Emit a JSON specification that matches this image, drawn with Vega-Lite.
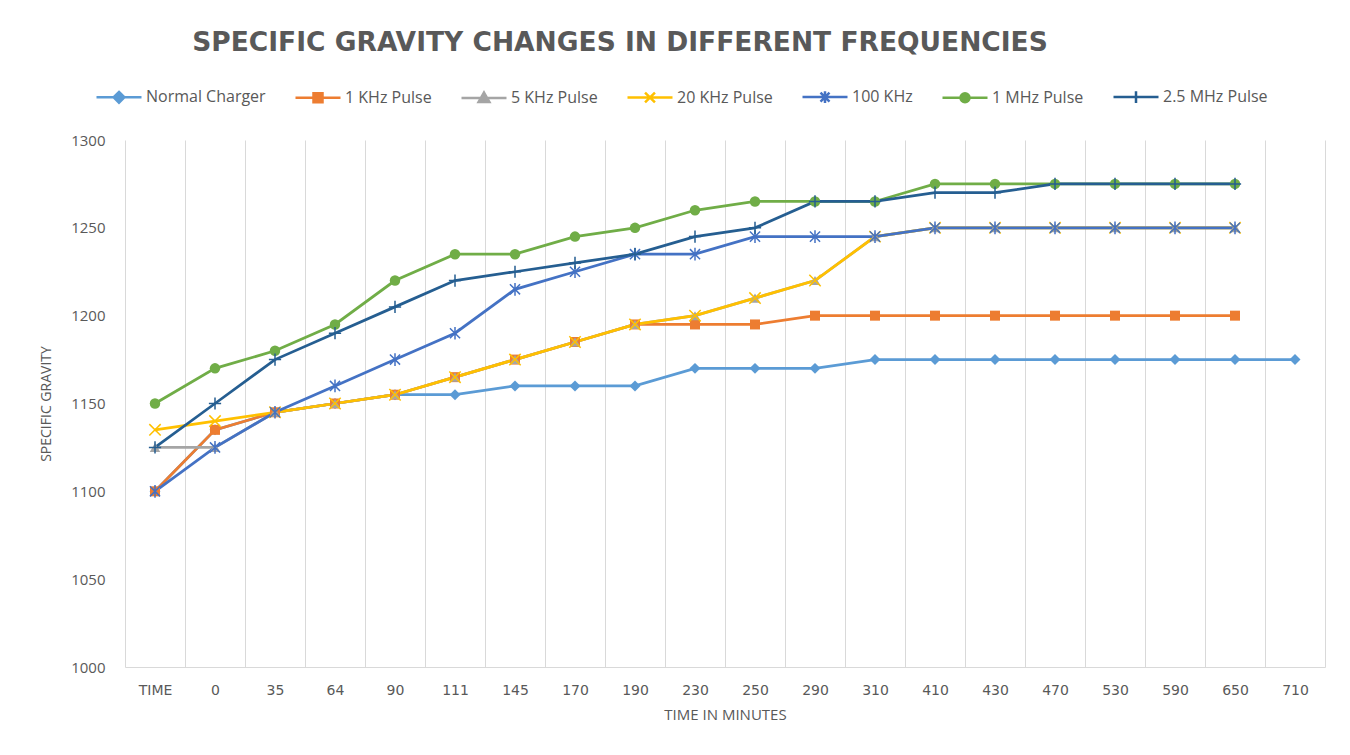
{
  "$schema": "https://vega.github.io/schema/vega-lite/v6.json",
  "width": 1200,
  "height": 527,
  "autosize": {"type": "none"},
  "padding": {"left": 125, "top": 140, "right": 25, "bottom": 88},
  "background": "white",
  "title": {
    "text": "SPECIFIC GRAVITY CHANGES IN DIFFERENT FREQUENCIES",
    "font": "DejaVu Sans",
    "fontSize": 26.5,
    "fontWeight": "bold",
    "color": "#595959",
    "anchor": "middle",
    "frame": "group",
    "dx": -105,
    "offset": 17
  },
  "config": {"view": {"stroke": null}},
  "data": {
    "values": [
      {"t": "TIME", "s": "Normal Charger", "v": 1100},
      {"t": "0", "s": "Normal Charger", "v": 1135},
      {"t": "35", "s": "Normal Charger", "v": 1145},
      {"t": "64", "s": "Normal Charger", "v": 1150},
      {"t": "90", "s": "Normal Charger", "v": 1155},
      {"t": "111", "s": "Normal Charger", "v": 1155},
      {"t": "145", "s": "Normal Charger", "v": 1160},
      {"t": "170", "s": "Normal Charger", "v": 1160},
      {"t": "190", "s": "Normal Charger", "v": 1160},
      {"t": "230", "s": "Normal Charger", "v": 1170},
      {"t": "250", "s": "Normal Charger", "v": 1170},
      {"t": "290", "s": "Normal Charger", "v": 1170},
      {"t": "310", "s": "Normal Charger", "v": 1175},
      {"t": "410", "s": "Normal Charger", "v": 1175},
      {"t": "430", "s": "Normal Charger", "v": 1175},
      {"t": "470", "s": "Normal Charger", "v": 1175},
      {"t": "530", "s": "Normal Charger", "v": 1175},
      {"t": "590", "s": "Normal Charger", "v": 1175},
      {"t": "650", "s": "Normal Charger", "v": 1175},
      {"t": "710", "s": "Normal Charger", "v": 1175},

      {"t": "TIME", "s": "1 KHz Pulse", "v": 1100},
      {"t": "0", "s": "1 KHz Pulse", "v": 1135},
      {"t": "35", "s": "1 KHz Pulse", "v": 1145},
      {"t": "64", "s": "1 KHz Pulse", "v": 1150},
      {"t": "90", "s": "1 KHz Pulse", "v": 1155},
      {"t": "111", "s": "1 KHz Pulse", "v": 1165},
      {"t": "145", "s": "1 KHz Pulse", "v": 1175},
      {"t": "170", "s": "1 KHz Pulse", "v": 1185},
      {"t": "190", "s": "1 KHz Pulse", "v": 1195},
      {"t": "230", "s": "1 KHz Pulse", "v": 1195},
      {"t": "250", "s": "1 KHz Pulse", "v": 1195},
      {"t": "290", "s": "1 KHz Pulse", "v": 1200},
      {"t": "310", "s": "1 KHz Pulse", "v": 1200},
      {"t": "410", "s": "1 KHz Pulse", "v": 1200},
      {"t": "430", "s": "1 KHz Pulse", "v": 1200},
      {"t": "470", "s": "1 KHz Pulse", "v": 1200},
      {"t": "530", "s": "1 KHz Pulse", "v": 1200},
      {"t": "590", "s": "1 KHz Pulse", "v": 1200},
      {"t": "650", "s": "1 KHz Pulse", "v": 1200},

      {"t": "TIME", "s": "5 KHz Pulse", "v": 1125},
      {"t": "0", "s": "5 KHz Pulse", "v": 1125},
      {"t": "35", "s": "5 KHz Pulse", "v": 1145},
      {"t": "64", "s": "5 KHz Pulse", "v": 1150},
      {"t": "90", "s": "5 KHz Pulse", "v": 1155},
      {"t": "111", "s": "5 KHz Pulse", "v": 1165},
      {"t": "145", "s": "5 KHz Pulse", "v": 1175},
      {"t": "170", "s": "5 KHz Pulse", "v": 1185},
      {"t": "190", "s": "5 KHz Pulse", "v": 1195},
      {"t": "230", "s": "5 KHz Pulse", "v": 1200},
      {"t": "250", "s": "5 KHz Pulse", "v": 1210},
      {"t": "290", "s": "5 KHz Pulse", "v": 1220},
      {"t": "310", "s": "5 KHz Pulse", "v": 1245},
      {"t": "410", "s": "5 KHz Pulse", "v": 1250},
      {"t": "430", "s": "5 KHz Pulse", "v": 1250},
      {"t": "470", "s": "5 KHz Pulse", "v": 1250},
      {"t": "530", "s": "5 KHz Pulse", "v": 1250},
      {"t": "590", "s": "5 KHz Pulse", "v": 1250},
      {"t": "650", "s": "5 KHz Pulse", "v": 1250},

      {"t": "TIME", "s": "20 KHz Pulse", "v": 1135},
      {"t": "0", "s": "20 KHz Pulse", "v": 1140},
      {"t": "35", "s": "20 KHz Pulse", "v": 1145},
      {"t": "64", "s": "20 KHz Pulse", "v": 1150},
      {"t": "90", "s": "20 KHz Pulse", "v": 1155},
      {"t": "111", "s": "20 KHz Pulse", "v": 1165},
      {"t": "145", "s": "20 KHz Pulse", "v": 1175},
      {"t": "170", "s": "20 KHz Pulse", "v": 1185},
      {"t": "190", "s": "20 KHz Pulse", "v": 1195},
      {"t": "230", "s": "20 KHz Pulse", "v": 1200},
      {"t": "250", "s": "20 KHz Pulse", "v": 1210},
      {"t": "290", "s": "20 KHz Pulse", "v": 1220},
      {"t": "310", "s": "20 KHz Pulse", "v": 1245},
      {"t": "410", "s": "20 KHz Pulse", "v": 1250},
      {"t": "430", "s": "20 KHz Pulse", "v": 1250},
      {"t": "470", "s": "20 KHz Pulse", "v": 1250},
      {"t": "530", "s": "20 KHz Pulse", "v": 1250},
      {"t": "590", "s": "20 KHz Pulse", "v": 1250},
      {"t": "650", "s": "20 KHz Pulse", "v": 1250},

      {"t": "TIME", "s": "100 KHz", "v": 1100},
      {"t": "0", "s": "100 KHz", "v": 1125},
      {"t": "35", "s": "100 KHz", "v": 1145},
      {"t": "64", "s": "100 KHz", "v": 1160},
      {"t": "90", "s": "100 KHz", "v": 1175},
      {"t": "111", "s": "100 KHz", "v": 1190},
      {"t": "145", "s": "100 KHz", "v": 1215},
      {"t": "170", "s": "100 KHz", "v": 1225},
      {"t": "190", "s": "100 KHz", "v": 1235},
      {"t": "230", "s": "100 KHz", "v": 1235},
      {"t": "250", "s": "100 KHz", "v": 1245},
      {"t": "290", "s": "100 KHz", "v": 1245},
      {"t": "310", "s": "100 KHz", "v": 1245},
      {"t": "410", "s": "100 KHz", "v": 1250},
      {"t": "430", "s": "100 KHz", "v": 1250},
      {"t": "470", "s": "100 KHz", "v": 1250},
      {"t": "530", "s": "100 KHz", "v": 1250},
      {"t": "590", "s": "100 KHz", "v": 1250},
      {"t": "650", "s": "100 KHz", "v": 1250},

      {"t": "TIME", "s": "1 MHz Pulse", "v": 1150},
      {"t": "0", "s": "1 MHz Pulse", "v": 1170},
      {"t": "35", "s": "1 MHz Pulse", "v": 1180},
      {"t": "64", "s": "1 MHz Pulse", "v": 1195},
      {"t": "90", "s": "1 MHz Pulse", "v": 1220},
      {"t": "111", "s": "1 MHz Pulse", "v": 1235},
      {"t": "145", "s": "1 MHz Pulse", "v": 1235},
      {"t": "170", "s": "1 MHz Pulse", "v": 1245},
      {"t": "190", "s": "1 MHz Pulse", "v": 1250},
      {"t": "230", "s": "1 MHz Pulse", "v": 1260},
      {"t": "250", "s": "1 MHz Pulse", "v": 1265},
      {"t": "290", "s": "1 MHz Pulse", "v": 1265},
      {"t": "310", "s": "1 MHz Pulse", "v": 1265},
      {"t": "410", "s": "1 MHz Pulse", "v": 1275},
      {"t": "430", "s": "1 MHz Pulse", "v": 1275},
      {"t": "470", "s": "1 MHz Pulse", "v": 1275},
      {"t": "530", "s": "1 MHz Pulse", "v": 1275},
      {"t": "590", "s": "1 MHz Pulse", "v": 1275},
      {"t": "650", "s": "1 MHz Pulse", "v": 1275},

      {"t": "TIME", "s": "2.5 MHz Pulse", "v": 1125},
      {"t": "0", "s": "2.5 MHz Pulse", "v": 1150},
      {"t": "35", "s": "2.5 MHz Pulse", "v": 1175},
      {"t": "64", "s": "2.5 MHz Pulse", "v": 1190},
      {"t": "90", "s": "2.5 MHz Pulse", "v": 1205},
      {"t": "111", "s": "2.5 MHz Pulse", "v": 1220},
      {"t": "145", "s": "2.5 MHz Pulse", "v": 1225},
      {"t": "170", "s": "2.5 MHz Pulse", "v": 1230},
      {"t": "190", "s": "2.5 MHz Pulse", "v": 1235},
      {"t": "230", "s": "2.5 MHz Pulse", "v": 1245},
      {"t": "250", "s": "2.5 MHz Pulse", "v": 1250},
      {"t": "290", "s": "2.5 MHz Pulse", "v": 1265},
      {"t": "310", "s": "2.5 MHz Pulse", "v": 1265},
      {"t": "410", "s": "2.5 MHz Pulse", "v": 1270},
      {"t": "430", "s": "2.5 MHz Pulse", "v": 1270},
      {"t": "470", "s": "2.5 MHz Pulse", "v": 1275},
      {"t": "530", "s": "2.5 MHz Pulse", "v": 1275},
      {"t": "590", "s": "2.5 MHz Pulse", "v": 1275},
      {"t": "650", "s": "2.5 MHz Pulse", "v": 1275}
    ]
  },
  "encoding": {
    "x": {
      "field": "t",
      "type": "ordinal",
      "sort": ["TIME", "0", "35", "64", "90", "111", "145", "170", "190", "230", "250", "290", "310", "410", "430", "470", "530", "590", "650", "710"],
      "scale": {"type": "band", "paddingInner": 0, "paddingOuter": 0},
      "axis": {
        "title": "TIME IN MINUTES",
        "titleFont": "Open Sans",
        "titleFontSize": 15,
        "titleFontWeight": "normal",
        "titleColor": "#595959",
        "titlePadding": 10,
        "labelAngle": 0,
        "labelFont": "DejaVu Sans",
        "labelFontSize": 14,
        "labelColor": "#595959",
        "labelPadding": 16,
        "tickBand": "extent",
        "ticks": false,
        "grid": true,
        "gridColor": "#D9D9D9",
        "gridWidth": 1,
        "domain": true,
        "domainColor": "#D9D9D9",
        "domainWidth": 1
      }
    },
    "y": {
      "field": "v",
      "type": "quantitative",
      "scale": {"domain": [1000, 1300], "nice": false, "zero": false},
      "axis": {
        "title": "SPECIFIC GRAVITY",
        "titleFont": "Open Sans",
        "titleFontSize": 14,
        "titleFontWeight": "normal",
        "titleColor": "#595959",
        "titlePadding": 17,
        "values": [1000, 1050, 1100, 1150, 1200, 1250, 1300],
        "format": "d",
        "labelFont": "Open Sans",
        "labelFontSize": 15,
        "labelColor": "#595959",
        "labelPadding": 20,
        "ticks": false,
        "domain": false,
        "grid": false
      }
    },
    "color": {
      "field": "s",
      "type": "nominal",
      "scale": {
        "domain": ["Normal Charger", "1 KHz Pulse", "5 KHz Pulse", "20 KHz Pulse", "100 KHz", "1 MHz Pulse", "2.5 MHz Pulse"],
        "range": ["#5B9BD5", "#ED7D31", "#A5A5A5", "#FFC000", "#4472C4", "#70AD47", "#255E91"]
      },
      "legend": {
        "title": null,
        "orient": "none",
        "legendX": -30,
        "legendY": -67,
        "direction": "horizontal",
        "columns": 7,
        "padding": 0,
        "symbolSize": 2025,
        "labelFont": "Open Sans",
        "labelFontSize": 16,
        "labelColor": "#595959",
        "labelOffset": 3,
        "columnPadding": 24,
        "encode": {
          "symbols": {
            "update": {
              "shape": {"signal": "datum.value === 'Normal Charger' ? 'M-1,0H1M0,-0.24L0.24,0L0,0.24L-0.24,0Z' : datum.value === '1 KHz Pulse' ? 'M-1,0H1M-0.2,-0.2H0.2V0.2H-0.2Z' : datum.value === '5 KHz Pulse' ? 'M-1,0H1M0,-0.24L0.24,0.18H-0.24Z' : datum.value === '20 KHz Pulse' ? 'M-1,0H1M-0.22,-0.22L0.22,0.22M-0.22,0.22L0.22,-0.22' : datum.value === '100 KHz' ? 'M-1,0H1M-0.2,-0.2L0.2,0.2M-0.2,0.2L0.2,-0.2M0,-0.26V0.26' : datum.value === '1 MHz Pulse' ? 'M-1,0H1M0.2,0A0.2,0.2 0 1 1 -0.2,0A0.2,0.2 0 1 1 0.2,0Z' : 'M-1,0H1M0,-0.26V0.26'"},
              "fill": {"scale": "color", "field": "value"},
              "stroke": {"scale": "color", "field": "value"},
              "strokeWidth": {"value": 2.5},
              "opacity": {"value": 1},
              "fillOpacity": {"value": 1}
            }
          }
        }
      }
    }
  },
  "layer": [
    {"mark": {"type": "line", "strokeWidth": 2.75}},
    {
      "transform": [{"filter": "datum.s === 'Normal Charger'"}],
      "mark": {"type": "point", "shape": "diamond", "filled": true, "size": 120, "opacity": 1}
    },
    {
      "transform": [{"filter": "datum.s === '1 KHz Pulse'"}],
      "mark": {"type": "point", "shape": "square", "filled": true, "size": 100, "opacity": 1}
    },
    {
      "transform": [{"filter": "datum.s === '5 KHz Pulse'"}],
      "mark": {"type": "point", "shape": "triangle-up", "filled": true, "size": 110, "opacity": 1}
    },
    {
      "transform": [{"filter": "datum.s === '20 KHz Pulse'"}],
      "mark": {"type": "point", "shape": "M-1,-1L1,1M-1,1L1,-1", "filled": false, "size": 130, "strokeWidth": 1.5, "opacity": 1}
    },
    {
      "transform": [{"filter": "datum.s === '100 KHz'"}],
      "mark": {"type": "point", "shape": "M-0.8,-0.8L0.8,0.8M-0.8,0.8L0.8,-0.8M0,-1V1", "filled": false, "size": 160, "strokeWidth": 1.5, "opacity": 1}
    },
    {
      "transform": [{"filter": "datum.s === '1 MHz Pulse'"}],
      "mark": {"type": "point", "shape": "circle", "filled": true, "size": 110, "opacity": 1}
    },
    {
      "transform": [{"filter": "datum.s === '2.5 MHz Pulse'"}],
      "mark": {"type": "point", "shape": "M-1,0H1M0,-1V1", "filled": false, "size": 150, "strokeWidth": 1.5, "opacity": 1}
    }
  ]
}
